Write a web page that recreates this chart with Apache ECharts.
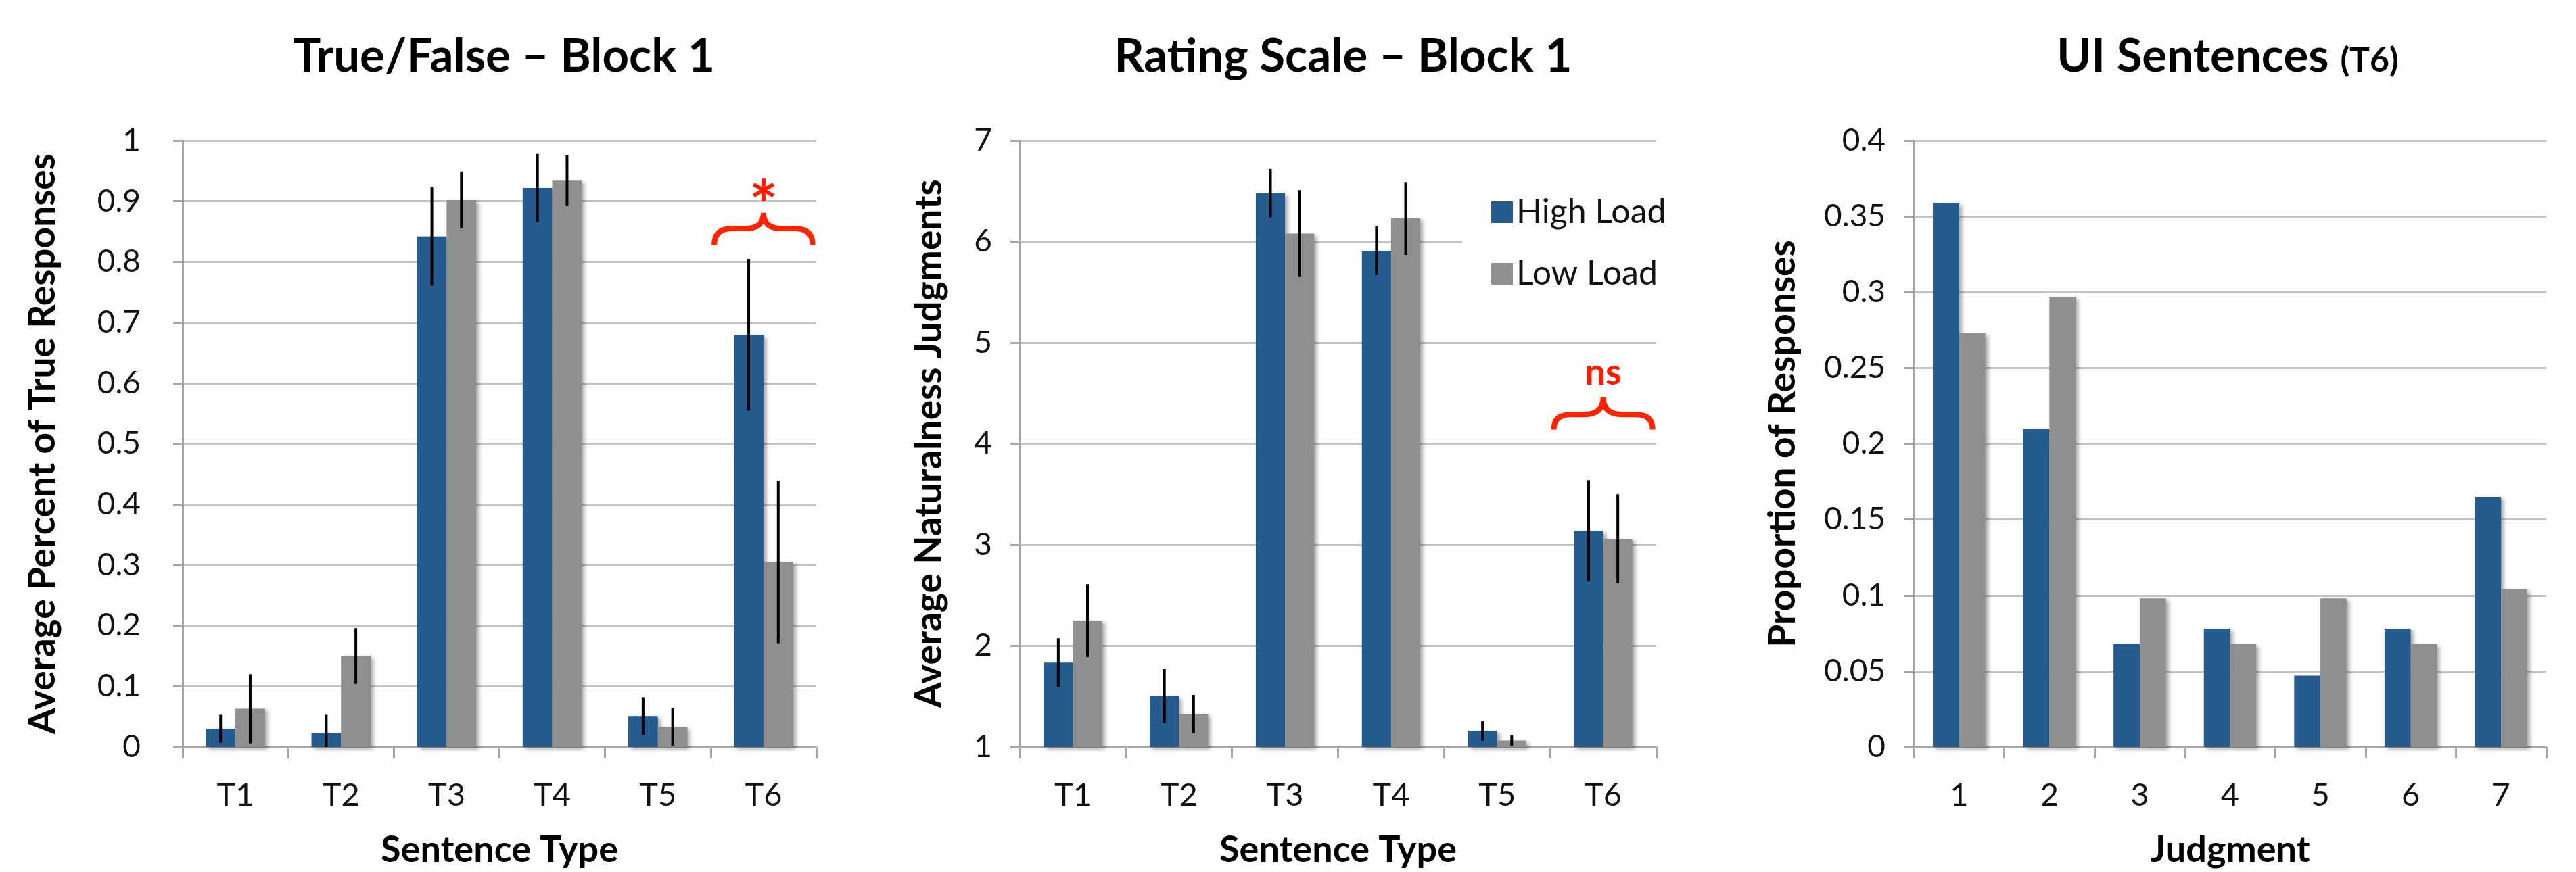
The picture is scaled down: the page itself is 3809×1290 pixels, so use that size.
<!DOCTYPE html>
<html>
<head>
    <meta charset="utf-8">
    <title>ECharts</title>
    <script src="https://cdn.jsdelivr.net/npm/echarts@6/dist/echarts.min.js"></script>
</head>
<body style="margin:0;background:#fff;">
<div id="main" style="width: 3809px;height:1290px;"></div>
</body>

<script type="text/javascript">

    // categories
    var sentenceTypes = ['T1', 'T2', 'T3', 'T4', 'T5', 'T6'];
    var judgments = ['1', '2', '3', '4', '5', '6', '7'];

    // True/False - Block 1
    var tfHigh = [0.030, 0.023, 0.842, 0.922, 0.051, 0.680];
    var tfLow = [0.063, 0.150, 0.902, 0.934, 0.033, 0.305];
    var tfHighErr = [0.023, 0.030, 0.081, 0.056, 0.031, 0.125];
    var tfLowErr = [0.057, 0.046, 0.047, 0.042, 0.031, 0.134];

    // Rating Scale - Block 1
    var rsHigh = [1.835, 1.505, 6.48, 5.91, 1.16, 3.14];
    var rsLow = [2.25, 1.325, 6.08, 6.23, 1.063, 3.06];
    var rsHighErr = [0.24, 0.27, 0.24, 0.24, 0.097, 0.50];
    var rsLowErr = [0.36, 0.19, 0.43, 0.36, 0.05, 0.44];

    // UI Sentences (T6)
    var uiHigh = [0.359, 0.210, 0.068, 0.078, 0.047, 0.078, 0.165];
    var uiLow = [0.273, 0.297, 0.098, 0.068, 0.098, 0.068, 0.104];

    // axis ranges [min, max, interval]
    var tfScale = [0, 1, 0.1];
    var rsScale = [1, 7, 1];
    var uiScale = [0, 0.4, 0.05];

    // brace annotations: [category, yEnds, yBar, yTip, yLabel]
    var tfBrace = [5, 0.828, 0.855, 0.881, 0.889];
    var rsBrace = [5, 4.14, 4.29, 4.46, 4.70];

    var BLUE = '#255b8e';
    var GRAY = '#8f8f8f';
    var FONT = 'Lato';

    var myChart = echarts.init(document.getElementById('main'));

    var grids = [
        {left: 270, top: 208, width: 937, height: 897},
        {left: 1508, top: 208, width: 941, height: 897},
        {left: 2830, top: 208, width: 935, height: 897}
    ];

    function xAxis(idx, cats, name) {
        return {
            type: 'category', gridIndex: idx, data: cats,
            name: name, nameLocation: 'middle', nameGap: 126,
            nameTextStyle: {fontFamily: FONT, fontSize: 54, fontWeight: 'bold', color: '#000'},
            axisLine: {lineStyle: {color: '#a6a6a6', width: 3}},
            axisTick: {show: true, length: 17, lineStyle: {color: '#a6a6a6', width: 3}},
            axisLabel: {fontFamily: FONT, fontSize: 47, color: '#111', margin: 48}
        };
    }

    function yAxis(idx, scale, name, gap, margin) {
        return {
            type: 'value', gridIndex: idx,
            min: scale[0], max: scale[1], interval: scale[2],
            name: name, nameLocation: 'middle', nameGap: gap,
            nameTextStyle: {fontFamily: FONT, fontSize: 55, fontWeight: 'bold', color: '#000'},
            axisLine: {show: true, lineStyle: {color: '#a6a6a6', width: 3}},
            axisTick: {show: true, length: 14, lineStyle: {color: '#a6a6a6', width: 3}},
            splitLine: {lineStyle: {color: '#c4c4c4', width: 3}},
            axisLabel: {
                fontFamily: FONT, fontSize: 46, color: '#111', margin: margin,
                formatter: function (v) { return String(+v.toFixed(2)); }
            }
        };
    }

    var barShadow = {shadowColor: 'rgba(0,0,0,0.35)', shadowBlur: 6, shadowOffsetX: 4, shadowOffsetY: 3};

    function bars(idx, name, data, color, gapPct) {
        return {
            type: 'bar', name: name, xAxisIndex: idx, yAxisIndex: idx, data: data,
            barGap: '0%', barCategoryGap: gapPct,
            itemStyle: Object.assign({color: color}, barShadow)
        };
    }

    function errorBars(idx, values, errs, side, share) {
        return {
            type: 'custom', xAxisIndex: idx, yAxisIndex: idx, silent: true, clip: true, z: 4,
            data: values.map(function (v, i) { return [i, v - errs[i], v + errs[i]]; }),
            renderItem: function (params, api) {
                var lo = api.coord([api.value(0), api.value(1)]);
                var hi = api.coord([api.value(0), api.value(2)]);
                var band = api.size([1, 0])[0];
                var x = lo[0] + side * band * share / 4;
                return {
                    type: 'line',
                    shape: {x1: x, y1: lo[1], x2: x, y2: hi[1]},
                    style: {stroke: '#000', lineWidth: 4}
                };
            }
        };
    }

    function brace(idx, b, label, labelSize) {
        return {
            type: 'custom', xAxisIndex: idx, yAxisIndex: idx, silent: true, z: 5,
            data: [b],
            renderItem: function (params, api) {
                var c = api.coord([api.value(0), api.value(2)]);
                var band = api.size([1, 0])[0];
                var half = band * 0.466;
                var yEnd = api.coord([api.value(0), api.value(1)])[1];
                var yMid = c[1];
                var yTip = api.coord([api.value(0), api.value(3)])[1];
                var yLab = api.coord([api.value(0), api.value(4)])[1];
                var xc = c[0], x0 = xc - half, x1 = xc + half;
                var r = Math.abs(yEnd - yMid) * 1.1;
                var q = Math.abs(yMid - yTip) * 1.1;
                var d = 'M' + x0 + ' ' + yEnd +
                    ' Q' + x0 + ' ' + yMid + ' ' + (x0 + r) + ' ' + yMid +
                    ' L' + (xc - q) + ' ' + yMid +
                    ' Q' + xc + ' ' + yMid + ' ' + xc + ' ' + yTip +
                    ' Q' + xc + ' ' + yMid + ' ' + (xc + q) + ' ' + yMid +
                    ' L' + (x1 - r) + ' ' + yMid +
                    ' Q' + x1 + ' ' + yMid + ' ' + x1 + ' ' + yEnd;
                return {
                    type: 'group',
                    children: [
                        {type: 'path', shape: {pathData: d}, style: {fill: 'none', stroke: '#ff2400', lineWidth: 8}},
                        {type: 'text', x: xc, y: yLab, style: {
                            text: label, fill: '#ff1a00', fontFamily: FONT, fontWeight: 'bold',
                            fontSize: labelSize, align: 'center', verticalAlign: 'middle'
                        }}
                    ]
                };
            }
        };
    }

    function title(x, text) {
        return {
            type: 'text', x: x, y: 84,
            style: {
                text: text, fill: '#000', fontFamily: FONT, fontWeight: 'bold', fontSize: 69,
                align: 'center', verticalAlign: 'middle',
                rich: {s: {fontFamily: FONT, fontWeight: 'bold', fontSize: 50, fill: '#000', padding: [12, 0, 0, 0]}}
            }
        };
    }

    myChart.setOption({
        animation: false,
        backgroundColor: '#fff',
        graphic: [
            title(745, 'True/False – Block 1'),
            title(1986, 'Rating Scale – Block 1'),
            title(3294, 'UI Sentences {s|(T6)}')
        ],
        legend: {
            data: ['High Load', 'Low Load'],
            orient: 'vertical',
            left: 2162, top: 261,
            padding: [25, 30, 25, 43],
            backgroundColor: '#fff',
            itemWidth: 32, itemHeight: 32, itemGap: 35,
            icon: 'rect',
            textStyle: {fontFamily: FONT, fontSize: 50, color: '#111', lineHeight: 56}
        },
        grid: grids,
        xAxis: [
            xAxis(0, sentenceTypes, 'Sentence Type'),
            xAxis(1, sentenceTypes, 'Sentence Type'),
            xAxis(2, judgments, 'Judgment')
        ],
        yAxis: [
            yAxis(0, tfScale, 'Average Percent of True Responses', 179, 62),
            yAxis(1, rsScale, 'Average Naturalness Judgments', 106, 41),
            yAxis(2, uiScale, 'Proportion of Responses', 166, 42)
        ],
        series: [
            bars(0, 'High Load', tfHigh, BLUE, '44%'),
            bars(0, 'Low Load', tfLow, GRAY, '44%'),
            errorBars(0, tfHigh, tfHighErr, -1, 0.56),
            errorBars(0, tfLow, tfLowErr, 1, 0.56),
            brace(0, tfBrace, '*', 100),

            bars(1, 'High Load', rsHigh, BLUE, '45%'),
            bars(1, 'Low Load', rsLow, GRAY, '45%'),
            errorBars(1, rsHigh, rsHighErr, -1, 0.55),
            errorBars(1, rsLow, rsLowErr, 1, 0.55),
            brace(1, rsBrace, 'ns', 54),

            bars(2, 'High Load', uiHigh, BLUE, '42%'),
            bars(2, 'Low Load', uiLow, GRAY, '42%')
        ]
    });

</script>
</html>
